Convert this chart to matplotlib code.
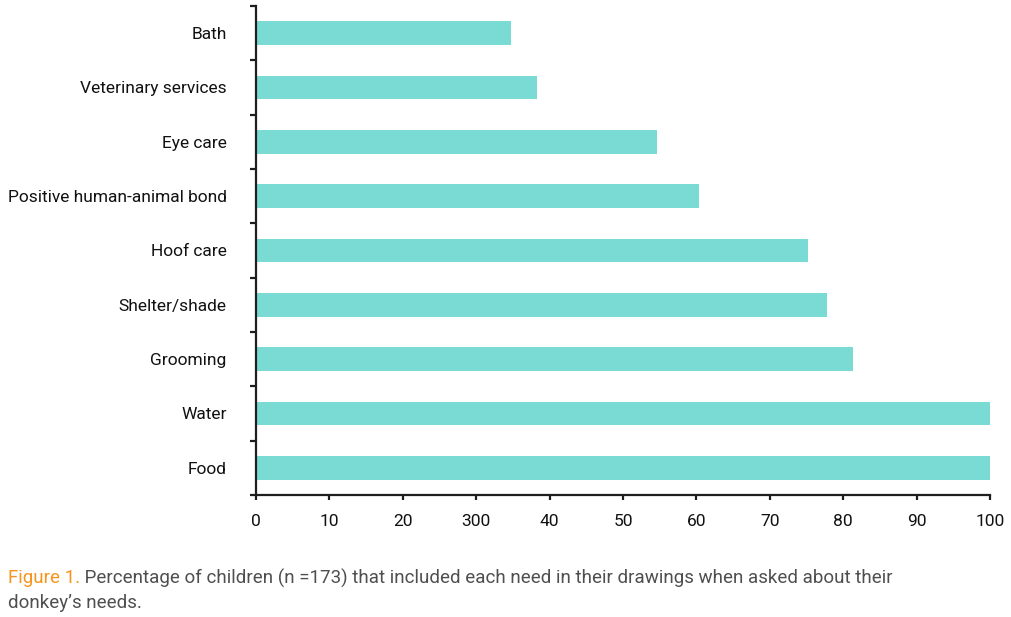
import matplotlib.pyplot as plt
import numpy as np

# needs, top to bottom as drawn
needs = ["Bath", "Veterinary services", "Eye care", "Positive human-animal bond",
         "Hoof care", "Shelter/shade", "Grooming", "Water", "Food"]
percent = [34.7, 38.3, 54.6, 60.3, 75.2, 77.8, 81.3, 100, 100]

x_ticks = [0, 10, 20, 30, 40, 50, 60, 70, 80, 90, 100]
x_tick_labels = ["0", "10", "20", "300", "40", "50", "60", "70", "80", "90", "100"]

caption_head = "Figure 1."
caption_line1 = " Percentage of children (n =173) that included each need in their drawings when asked about their"
caption_line2 = "donkey\u2019s needs."

bar_color = "#7ADBD5"
axis_color = "#1e1e1e"
caption_orange = "#F7941D"
caption_grey = "#4f4f4f"

plt.rcParams["font.family"] = ["Roboto", "DejaVu Sans"]

fig = plt.figure(figsize=(10.11, 6.17), dpi=100)
ax = fig.add_axes([256 / 1011, 1 - 495 / 617, (990 - 256) / 1011, (495 - 6) / 617])

y = np.arange(len(needs))
ax.barh(y, percent, height=0.44, color=bar_color)
ax.set_ylim(len(needs) - 0.5, -0.5)
ax.set_xlim(0, 100)

for side in ["top", "right"]:
    ax.spines[side].set_visible(False)
for side in ["left", "bottom"]:
    ax.spines[side].set_linewidth(1.6)
    ax.spines[side].set_color(axis_color)

# category labels at centres, tick marks on the boundaries
ax.set_yticks(y)
ax.set_yticklabels(needs, fontsize=12.5, color="#111111")
ax.tick_params(axis="y", which="major", length=0, pad=21)
ax.set_yticks(np.arange(-0.5, len(needs)), minor=True)
ax.tick_params(axis="y", which="minor", length=4, width=1.6, color=axis_color)

ax.set_xticks(x_ticks)
ax.set_xticklabels(x_tick_labels, fontsize=12.5, color="#111111")
ax.tick_params(axis="x", length=3.5, width=1.6, color=axis_color, pad=10)

# caption: orange figure number, then grey text right after it
t1 = fig.text(8 / 1011, 1 - 578 / 617, caption_head, fontsize=13.5,
              color=caption_orange, va="center", ha="left")
ax.annotate(caption_line1, xy=(1, 0.5), xycoords=t1, va="center", ha="left",
            fontsize=13.5, color=caption_grey, annotation_clip=False)
fig.text(8 / 1011, 1 - 603 / 617, caption_line2, fontsize=13.5,
         color=caption_grey, va="center", ha="left")

fig.savefig("out.png", dpi=100)
